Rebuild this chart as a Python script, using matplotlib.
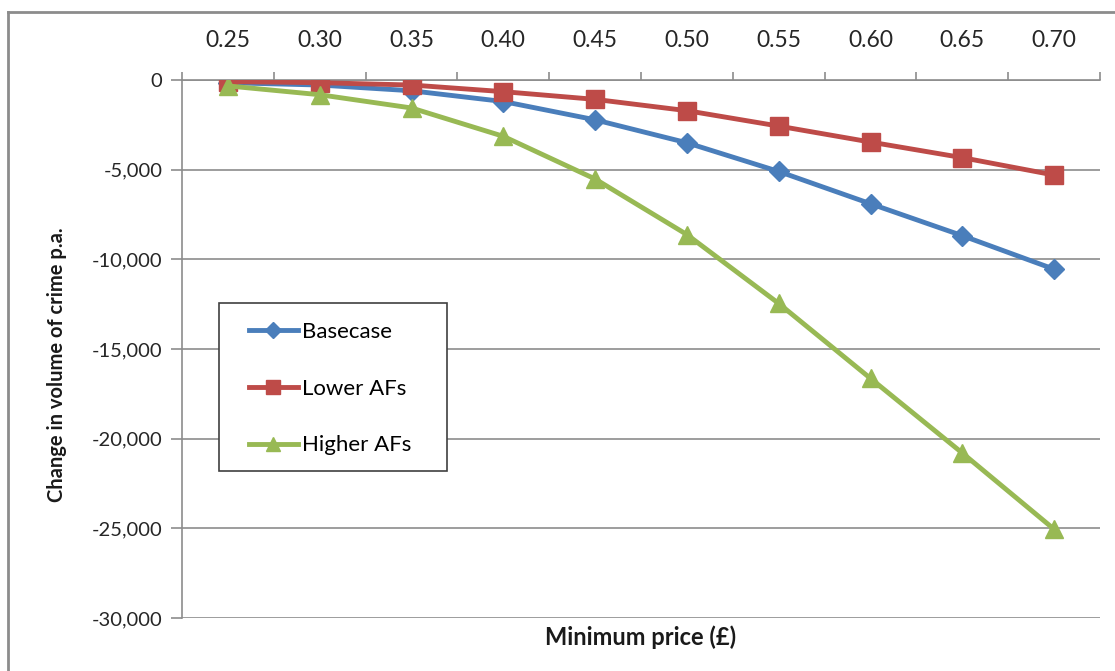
import matplotlib.pyplot as plt
from matplotlib.lines import Line2D
from matplotlib.patches import Rectangle
from matplotlib.ticker import FuncFormatter

plt.rcParams["font.family"] = ["Lato", "DejaVu Sans"]

prices = ["0.25", "0.30", "0.35", "0.40", "0.45", "0.50", "0.55", "0.60", "0.65", "0.70"]
basecase = [-150, -280, -600, -1200, -2220, -3500, -5100, -6900, -8680, -10550]
lower_afs = [-90, -150, -280, -650, -1080, -1710, -2570, -3460, -4330, -5300]
higher_afs = [-330, -820, -1560, -3140, -5520, -8620, -12460, -16640, -20800, -25050]

W, H = 1115, 671
fig = plt.figure(figsize=(W / 100, H / 100), dpi=100)
ax = fig.add_axes([182 / W, 1 - 618 / H, 918 / W, 538 / H])

x = range(len(prices))
ax.plot(x, basecase, color="#4a7ebb", lw=3.5, marker="D", ms=10, label="Basecase", zorder=3)
ax.plot(x, lower_afs, color="#be4b48", lw=3.5, marker="s", ms=13, label="Lower AFs", zorder=4)
ax.plot(x, higher_afs, color="#98b954", lw=3.5, marker="^", ms=13, label="Higher AFs", zorder=5)

ax.set_xlim(-0.5, len(prices) - 0.5)
ax.set_ylim(-30000, 0)
ax.set_yticks(range(-30000, 1, 5000))
ax.yaxis.set_major_formatter(FuncFormatter(lambda v, p: f"{int(v):,}"))
ax.grid(axis="y", color="#8c8c8c", lw=1.2)
ax.set_axisbelow(True)

# category labels on top, tick marks on category boundaries
ax.xaxis.tick_top()
ax.set_xticks(list(x))
ax.set_xticklabels(prices)
ax.set_xticks([i - 0.5 for i in range(len(prices) + 1)], minor=True)
ax.tick_params(axis="x", which="major", length=0, pad=21, labelsize=16.5, colors="#262626")
ax.tick_params(axis="x", which="minor", length=6, color="#8c8c8c", width=1.2)
ax.tick_params(axis="y", length=8, color="#8c8c8c", width=1.2, labelsize=14.5,
               labelcolor="#262626", pad=6)

for s in ["right", "bottom"]:
    ax.spines[s].set_visible(False)
for s in ["top", "left"]:
    ax.spines[s].set_color("#8c8c8c")
    ax.spines[s].set_linewidth(1.2)

fig.text(641 / W, 1 - 637 / H, "Minimum price (£)", ha="center", va="center",
         fontsize=17, fontweight="bold", color="#1a1a1a")
fig.text(57 / W, 1 - 365 / H, "Change in volume of crime p.a.", ha="center", va="center",
         rotation=90, fontsize=14.5, fontweight="bold", color="#1a1a1a")

# legend box drawn separately so its padding can match the reference
ax.add_patch(Rectangle(((219 - 182) / 918, (618 - 471) / 538), 228 / 918, 168 / 538,
                       transform=ax.transAxes, facecolor="white", edgecolor="#404040",
                       lw=1.2, zorder=6))
leg = ax.legend(loc="upper left", bbox_to_anchor=((249 - 182) / 918, 1 - (322 - 80) / 538),
                frameon=False, fontsize=16, labelspacing=1.65, handlelength=2.2,
                handletextpad=0.2, borderpad=0, borderaxespad=0, markerscale=0.8)
leg.set_zorder(7)

# outer chart border
fig.add_artist(Line2D([8 / W, 1], [1 - 12 / H] * 2, color="#8c8c8c", lw=2))
fig.add_artist(Line2D([8 / W] * 2, [0, 1 - 12 / H], color="#8c8c8c", lw=2))

fig.savefig("out.png", dpi=100)
